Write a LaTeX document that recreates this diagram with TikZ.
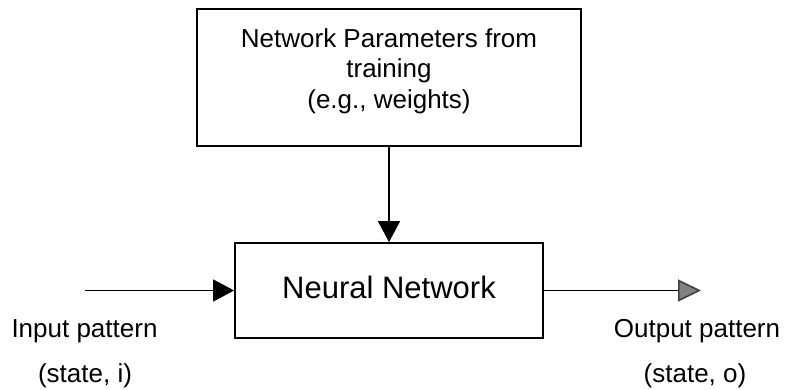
\documentclass[tikz,border=0pt]{standalone}
\usepackage{fontspec}
\setmainfont{Liberation Sans}
\usetikzlibrary{arrows.meta}
\begin{document}
\begin{tikzpicture}[x=1pt,y=-1pt,
  box/.style={draw, line width=1.8pt, inner sep=0pt},
  lbl/.style={inner sep=0pt, anchor=base, font=\fontsize{26}{30.5}\selectfont},
  conn/.style={line width=1.6pt, -{Triangle[length=21pt,width=22pt]}},
]
\useasboundingbox (0,0) rectangle (787,389);
\node[box, minimum width=384pt, minimum height=137pt] (params) at (389,77.5) {};
\node[lbl, align=center] (ptext) at (389,108) {Network Parameters from\\training\\(e.g., weights)};
\node[box, minimum width=308pt, minimum height=95pt] (nn) at (389,290.5) {};
\node[lbl, font=\fontsize{31}{36}\selectfont] (nntext) at (389,298) {Neural Network};
\coordinate (in) at (85,290.5);
\coordinate (out) at (701,290.5);
\draw[conn] (params.south) -- (nn.north);
\draw[conn] (in) -- (nn.west);
\draw[conn, -{Triangle[length=23pt,width=22pt,color=black!75,fill=black!50]}] (nn.east) -- (out);
\node[lbl] (inlbl) at (84.5,337) {Input pattern};
\node[lbl] (instate) at (85,382) {(state, i)};
\node[lbl] (outlbl) at (697,337) {Output pattern};
\node[lbl] (outstate) at (695,382) {(state, o)};
\end{tikzpicture}
\end{document}
